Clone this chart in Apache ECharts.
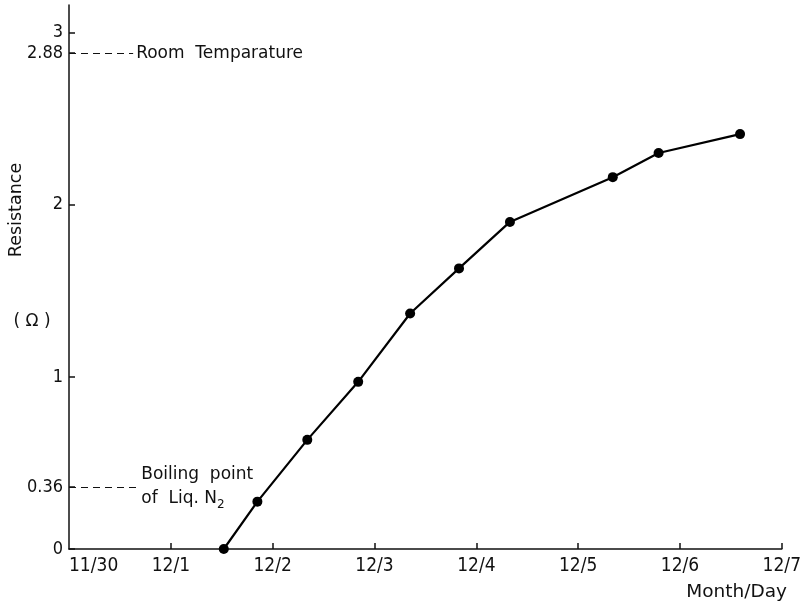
<!DOCTYPE html>
<html>
<head>
<meta charset="utf-8">
<script src="https://cdn.jsdelivr.net/npm/echarts@6/dist/echarts.min.js"></script>
<style>
html,body{margin:0;padding:0;background:#fff;}
#chart{width:804px;height:604px;}
</style>
</head>
<body>
<div id="chart"></div>
<script>
// Time in days since 11/30 00:00, resistance in ohms
var dayOffsets = [1.52, 1.85, 2.34, 2.84, 3.35, 3.83, 4.33, 5.34, 5.79, 6.59];
var resistance = [0.0, 0.275, 0.634, 0.971, 1.368, 1.63, 1.90, 2.16, 2.30, 2.41];
var xTickLabels = ['11/30', '12/1', '12/2', '12/3', '12/4', '12/5', '12/6', '12/7'];
var yTickValues = [0, 0.36, 1, 2, 2.88, 3];
var roomTemp = 2.88;
var liqN2 = 0.36;
var roomTempText = 'Room  Temparature';
var liqN2Text = 'Boiling  point\nof  Liq. N{sub|2}';
var yTitle = 'Resistance';
var yUnit = '( Ω )';
var xTitle = 'Month/Day';

var FONT = '"DejaVu Sans", sans-serif';
var CFONT = '"DejaVu Sans Condensed", "DejaVu Sans", sans-serif';
var chart = echarts.init(document.getElementById('chart'), null, {renderer: 'canvas'});
var points = dayOffsets.map(function (d, i) { return [d, resistance[i]]; });

chart.setOption({
  animation: false,
  backgroundColor: '#fff',
  grid: {left: 69, right: 22, top: 5, bottom: 55, containLabel: false},
  xAxis: {
    type: 'value', min: 0, max: 7, interval: 1,
    axisLine: {show: true, lineStyle: {color: '#111', width: 1.5}},
    axisTick: {show: true, inside: true, length: 6, lineStyle: {color: '#111', width: 1.5}, customValues: [1, 2, 3, 4, 5, 6, 7]},
    splitLine: {show: false},
    axisLabel: {
      color: '#111', fontFamily: CFONT, fontSize: 19, margin: 8,
      alignMinLabel: 'left',
      formatter: function (v) { return xTickLabels[Math.round(v)]; }
    }
  },
  yAxis: {
    type: 'value', min: 0, max: 3.16,
    axisLine: {show: true, lineStyle: {color: '#111', width: 1.5}},
    axisTick: {show: true, inside: true, length: 6, lineStyle: {color: '#111', width: 1.5}, customValues: yTickValues},
    splitLine: {show: false},
    axisLabel: {
      color: '#111', fontFamily: CFONT, fontSize: 18, margin: 6,
      customValues: yTickValues,
      formatter: function (v) { return String(v); }
    }
  },
  series: [{
    type: 'line',
    data: points,
    symbol: 'circle', symbolSize: 10,
    lineStyle: {color: '#000', width: 2.2},
    itemStyle: {color: '#000'},
    markLine: {
      silent: true,
      symbol: ['none', 'none'],
      lineStyle: {color: '#111', type: [7, 5], width: 1},
      label: {show: true, position: 'end', distance: 3, color: '#111', fontFamily: FONT, fontSize: 17,
        rich: {sub: {fontSize: 12, fontFamily: FONT, color: '#111', verticalAlign: 'bottom', padding: [9, 0, 0, 0]}}},
      data: [
        [{coord: [0, roomTemp], label: {formatter: roomTempText}}, {coord: [0.63, roomTemp]}],
        [{coord: [0, liqN2], label: {formatter: liqN2Text, lineHeight: 24}}, {coord: [0.68, liqN2]}]
      ]
    }
  }],
  graphic: [
    {type: 'text', x: 16, y: 210, rotation: Math.PI / 2, style: {text: yTitle, fill: '#111', font: '17.5px ' + FONT, align: 'center', verticalAlign: 'middle'}},
    {type: 'text', x: 32, y: 322, style: {text: yUnit, fill: '#111', font: '17px ' + FONT, align: 'center', verticalAlign: 'middle'}},
    {type: 'text', x: 787, y: 592, style: {text: xTitle, fill: '#111', font: '18.5px ' + FONT, align: 'right', verticalAlign: 'middle'}}
  ]
});
</script>
</body>
</html>
